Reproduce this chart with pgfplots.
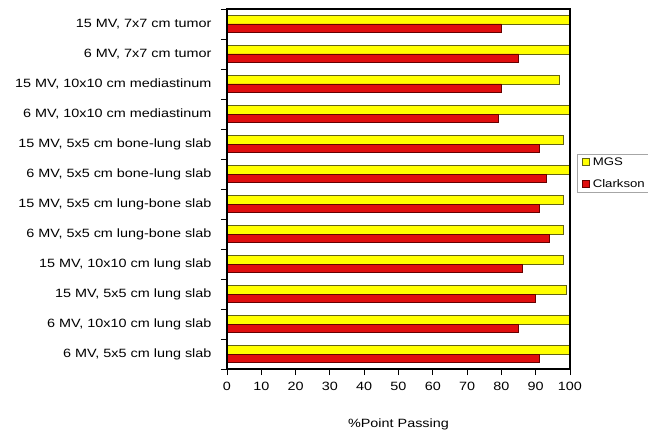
\documentclass[border=0pt]{standalone}
\usepackage{fontspec}
\setmainfont{Liberation Sans}[FakeStretch=1.2]
\usepackage{pgfplots}
\pgfplotsset{compat=1.18}
\usetikzlibrary{calc}
\definecolor{myyel}{RGB}{255,255,0}
\definecolor{myyelb}{RGB}{100,100,20}
\definecolor{myred}{RGB}{224,14,14}
\definecolor{myredb}{RGB}{100,0,0}
\begin{document}
\begin{tikzpicture}
\begin{axis}[
  name=ax,
  scale only axis, width=343pt, height=360pt,
  xmin=0, xmax=100, ymin=-0.5, ymax=11.5,
  axis on top,
  xbar, bar width=8.3pt,
  xtick={0,10,...,100},
  ytick={0,...,11},
  yticklabels={{6 MV, 5x5 cm lung slab},{6 MV, 10x10 cm lung slab},{15 MV, 5x5 cm lung slab},{15 MV, 10x10 cm lung slab},{6 MV, 5x5 cm lung-bone slab},{15 MV, 5x5 cm lung-bone slab},{6 MV, 5x5 cm bone-lung slab},{15 MV, 5x5 cm bone-lung slab},{6 MV, 10x10 cm mediastinum},{15 MV, 10x10 cm mediastinum},{6 MV, 7x7 cm tumor},{15 MV, 7x7 cm tumor}},
  minor ytick={-0.5,0.5,...,11.5},
  tick align=outside,
  xtick pos=bottom, ytick pos=left,
  major tick length=6pt, minor tick length=6pt,
  major y tick style={draw=none},
  tick style={black, line width=0.8pt},
  axis x line*=box, axis y line*=box,
  axis line style={black, line width=1.2pt},
  /pgf/number format/assume math mode=true,
  ticklabel style={font=\fontsize{12}{14}\selectfont},
  yticklabel style={anchor=east, xshift=-6pt},
  xticklabel style={anchor=north, yshift=-4pt},
  xlabel={\%Point Passing},
  xlabel style={font=\fontsize{12}{14}\selectfont, at={(axis description cs:0.5,0)}, anchor=north, yshift=-46pt},
  legend style={at={(1.02,0.597)}, anchor=north west, draw=black!35, line width=0.6pt,
    font=\fontsize{11}{13}\selectfont, inner sep=2pt, row sep=11pt,
    nodes={inner sep=1pt, anchor=west}},
  legend cell align=left,
]
\addplot[fill=myyel, draw=myyelb, line width=0.6pt, bar shift=4.15pt,
  legend image code/.code={\path (0pt,0pt) (12pt,0pt); \draw[fill=myyel, draw=myyelb, line width=0.6pt] (3pt,-3.5pt) rectangle (10pt,3.5pt);}]
  coordinates {(100,0) (100,1) (99,2) (98,3) (98,4) (98,5) (100,6) (98,7) (100,8) (97,9) (100,10) (100,11)};
\addlegendentry{MGS}
\addplot[fill=myred, draw=myredb, line width=0.6pt, bar shift=-4.15pt,
  legend image code/.code={\path (0pt,0pt) (12pt,0pt); \draw[fill=myred, draw=myredb, line width=0.6pt] (3pt,-3.5pt) rectangle (10pt,3.5pt);}]
  coordinates {(91,0) (85,1) (90,2) (86,3) (94,4) (91,5) (93,6) (91,7) (79,8) (80,9) (85,10) (80,11)};
\addlegendentry{Clarkson}
\end{axis}
\draw[black, line width=1.5pt] ($(ax.south west)+(0pt,360pt)$) -- ($(ax.south west)+(343pt,360pt)$) -- ($(ax.south west)+(343pt,0pt)$);
\pgfresetboundingbox
\path[use as bounding box] ($(ax.south west)+(-227pt,-60pt)$) rectangle ++(648pt,429pt);
\end{tikzpicture}
\end{document}
